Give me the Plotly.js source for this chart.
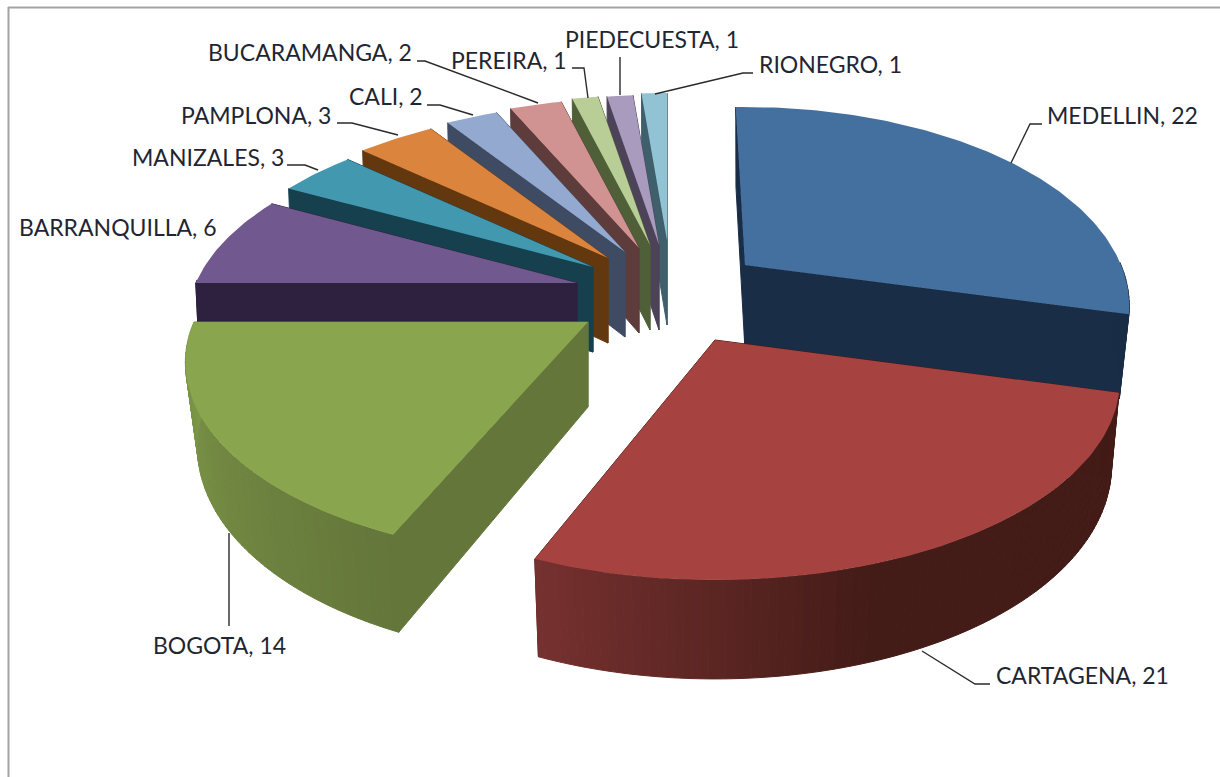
<!DOCTYPE html>
<html>
<head>
<meta charset="utf-8">
<script src="https://cdn.plot.ly/plotly-3.0.1.min.js"></script>
<style>html,body{margin:0;padding:0;background:#fff}#chart{width:1220px;height:777px}</style>
</head>
<body>
<div id="chart"></div>
<script>
// Data
const categories = ["MEDELLIN","CARTAGENA","BOGOTA","BARRANQUILLA","MANIZALES","PAMPLONA","CALI","BUCARAMANGA","PEREIRA","PIEDECUESTA","RIONEGRO"];
const counts = [22,21,14,6,3,3,2,2,1,1,1];

// Styles
const topColors  = ["#44709f","#a64340","#89a54e","#71588f","#4198af","#db843d","#93a9cf","#d19392","#b9cd96","#a99bbd","#91c3d5"];
const faceColors = ["#1a2d47","#431b17","#64763a","#2e2140","#17404f","#64380f","#3f4b62","#5e3c3c","#4f5f38","#4c4358","#3f5f6c"];
const sideFrom   = ["#1a2d47","#431b17","#64763a","#2e2140","#17404f","#64380f","#3f4b62","#5e3c3c","#4f5f38","#4c4358","#3f5f6c"];
const sideTo     = ["#1a2d47","#76312f","#7f9a49","#2e2140","#17404f","#64380f","#3f4b62","#5e3c3c","#4f5f38","#4c4358","#3f5f6c"];
const gradientHold = [0,0.58,0,0,0,0,0,0,0,0,0];

// Explosion apex of each slice on the page, and its scale and edge-angle corrections
const apexX = [745,715,588,577,593,608,625,639,650,659,667];
const apexY = [265,340,322,283,267,258,252,248,245,245,240];
const scaleX = [0.94,0.99,0.985,0.953,0.95,0.95,0.95,0.95,0.95,0.95,0.93];
const scaleY = [1,1,0.99,0.96,0.95,0.95,0.95,0.95,0.95,0.95,0.93];
const startAdj = [-1.7,1,0,0,0,0,0,0,0,0,0];
const endAdj = [0,-2.1,0,0,0,0,0,0,0,0,0];
const bottomShrink = [0.975,0.98,0.97,0.99,0.99,0.99,0.99,0.99,0.99,0.99,0.99];

// Perspective projection of the pie's plane
const BX = 400, BY = 190.5, K = 0.206;
const project = (deg, i) => {
  const r = deg * Math.PI / 180, X = Math.sin(r), Y = Math.cos(r), d = 1 + K * Y;
  return {x: apexX[i] + scaleX[i] * BX * X / d, y: apexY[i] - scaleY[i] * BY * Y / d, Y};
};
const lower = (p, i) => {
  const depth = 80 + 19 * Math.max(0, -p.Y);
  return {x: apexX[i] + (p.x - apexX[i]) * bottomShrink[i], y: p.y + depth};
};
const hex = c => [1,3,5].map(n => parseInt(c.substr(n,2),16));
const mix = (a,b,f) => { const A=hex(a),B=hex(b); return "rgb("+A.map((v,n)=>Math.round(v+(B[n]-v)*f)).join(",")+")"; };

const poly = (pts, color, lw) => ({
  type:"scatter", mode:"lines", x:pts.map(p=>p.x).concat(pts[0].x), y:pts.map(p=>p.y).concat(pts[0].y),
  fill:"toself", fillcolor:color, line:{color:color,width:lw===undefined?1:lw,shape:"linear"},
  hoverinfo:"skip", showlegend:false
});

const total = counts.reduce((a,b)=>a+b,0);
let running = 0;
const spans = counts.map((v,i)=>{ const a=running/total*360; running+=v; return [a+startAdj[i], running/total*360+endAdj[i]]; });

const traces = [];
const order = [10,9,8,7,6,5,4,3,0,2,1];
order.forEach(i=>{
  const [a0,a1] = spans[i];
  const apex = {x:apexX[i], y:apexY[i]};
  const apexLow = {x:apexX[i], y:apexY[i]+85};
  const radial = a => { const p=project(a,i); return [apex,p,lower(p,i),apexLow]; };
  traces.push(poly(radial(a1),faceColors[i]));
  traces.push(poly(radial(a0),faceColors[i]));
  const steps = Math.max(2,Math.ceil(a1-a0));
  for(let s=0;s<steps;s++){
    const ta=a0+(a1-a0)*s/steps, tb=a0+(a1-a0)*(s+1)/steps;
    const pa=project(ta,i), pb=project(tb,i);
    if(pa.Y>=0 && pb.Y>=0) continue;
    const f=(s+0.5)/steps, h=gradientHold[i];
    traces.push(poly([pa,pb,lower(pb,i),lower(pa,i)],mix(sideFrom[i],sideTo[i],Math.max(0,(f-h)/(1-h)))));
  }
  const rim=[apex];
  for(let s=0;s<=steps;s++) rim.push(project(a0+(a1-a0)*s/steps,i));
  traces.push(poly(rim,topColors[i],0));
});

// Leader lines
const leaderX = [[1011,1030,1042],[922,975,990],[229,229],[],[287,305,318],[337,352,398],[427,440,473],[417,425,538],[572,584,588],[620,620],[753,743,655]];
const leaderY = [[163,124,124],[651,684,684],[533,626],[],[165,165,170],[123,123,135],[105,105,115],[61,61,103],[68,68,98],[57,95],[73,73,94]];
leaderX.forEach((lx,i)=>{ if(lx.length) traces.push({type:"scatter",mode:"lines",x:lx,y:leaderY[i],line:{color:"#2a2a2a",width:1.4},hoverinfo:"skip",showlegend:false}); });

// Label placement
const labelX = [1046,995,152,18,131,180,348,207,450,564,758];
const labelY = [115,675,645,227,157,115,96,52,60,39,64];
const annotations = categories.map((c,i)=>({
  text:c+", "+counts[i], x:labelX[i], y:labelY[i], xref:"x", yref:"y",
  xanchor:"left", yanchor:"middle", showarrow:false, borderpad:0,
  font:{family:"Lato, Carlito, sans-serif",size:23,color:"#1f2633"}
}));

const layout = {
  width:1220, height:777, margin:{l:0,r:0,t:0,b:0},
  paper_bgcolor:"#fff", plot_bgcolor:"#fff",
  xaxis:{range:[0,1220],visible:false,fixedrange:true},
  yaxis:{range:[777,0],visible:false,fixedrange:true},
  annotations,
  shapes:[
    {type:"line",xref:"x",yref:"y",x0:8.5,x1:8.5,y0:7,y1:777,line:{color:"#a3a3a3",width:2}},
    {type:"line",xref:"x",yref:"y",x0:8,x1:1220,y0:7.5,y1:7.5,line:{color:"#a3a3a3",width:2}}
  ]
};
Plotly.newPlot("chart",traces,layout,{displayModeBar:false,staticPlot:true});
</script>
</body>
</html>
